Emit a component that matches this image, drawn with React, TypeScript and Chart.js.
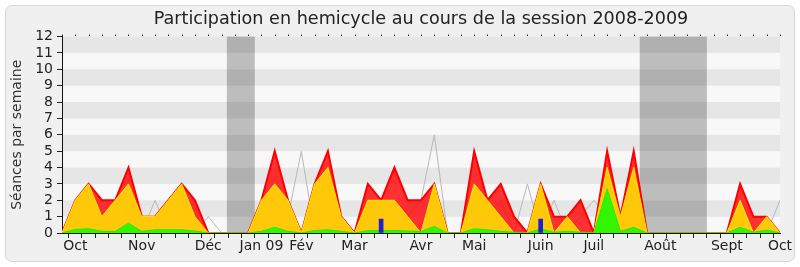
import React, { useEffect, useRef } from 'react';
import { Chart, registerables } from 'chart.js';

Chart.register(...registerables);

// Weekly values, week 0 = end of September 2008 ... week 54 = start of October 2009
const seances = [0, 2, 3, 2, 2, 4, 1, 1, 2, 3, 2, 0, 0, 0, 0, 2, 5, 2, 0, 3, 5, 1, 0, 3, 2, 4, 2, 2, 3, 0, 0, 5, 2, 3, 1, 0, 3, 1, 1, 2, 0, 5, 1, 5, 0, 0, 0, 0, 0, 0, 0, 3, 1, 1, 0];
const presences = [0, 2, 3, 1, 2, 3, 1, 1, 2, 3, 1, 0, 0, 0, 0, 2, 3, 2, 0, 3, 4, 1, 0, 2, 2, 2, 1, 0, 3, 0, 0, 3, 2, 1, 0, 0, 3, 0, 1, 0, 0, 4, 1, 4, 0, 0, 0, 0, 0, 0, 0, 2, 0, 1, 0];
const interventions = [0, 0.22, 0.26, 0.1, 0.1, 0.6, 0.1, 0.2, 0.2, 0.2, 0.12, 0, 0, 0, 0, 0.1, 0.35, 0.1, 0, 0.15, 0.2, 0.1, 0, 0.15, 0.15, 0.15, 0.12, 0.1, 0.4, 0, 0, 0.26, 0.2, 0.1, 0.05, 0, 0.25, 0.05, 0.1, 0.05, 0, 2.7, 0.1, 0.35, 0, 0, 0, 0, 0, 0, 0, 0.35, 0.05, 0.18, 0];
const mediane = [0, 0, 0, 1, 1, 2, 0, 2, 0, 1, 0, 1, 0, 0, 0, 1, 0, 1, 5, 0, 1, 0, 0, 1, 0, 1, 1, 2, 6, 0, 0, 1, 1, 2, 0, 3, 0, 2, 0, 1, 2, 1, 0, 1, 0, 0, 0, 0, 0, 0, 0, 0, 0, 0, 2];
const questionWeeks = [24, 36];
const questionValues = [0.85, 0.85];

const monthWeeks = [1, 6, 11, 15, 18, 22, 27, 31, 36, 40, 45, 50, 54];
const monthLabels = ['Oct', 'Nov', 'Déc', 'Jan 09', 'Fév', 'Mar', 'Avr', 'Mai', 'Juin', 'Juil', 'Août', 'Sept', 'Oct'];
const vacationStarts = [12.4, 43.45];
const vacationEnds = [14.5, 48.5];
const yMax = 12;

const FONT = "'DejaVu Sans', 'Verdana', sans-serif";

const backgroundPlugin = {
  id: 'bgStripes',
  beforeDraw(chart: any) {
    const { ctx, chartArea: a, scales } = chart;
    const x = scales.x;
    const y = scales.y;
    ctx.save();
    for (let v = 0; v < yMax; v++) {
      const y1 = y.getPixelForValue(v + 1);
      const y0 = y.getPixelForValue(v);
      ctx.fillStyle = v % 2 === 1 ? '#e6e6e6' : '#f8f8f8';
      ctx.fillRect(a.left, y1, a.right - a.left, y0 - y1);
    }
    ctx.globalCompositeOperation = 'multiply';
    ctx.fillStyle = 'rgb(195,195,195)';
    vacationStarts.forEach((s, k) => {
      const x0 = x.getPixelForValue(s);
      const x1 = x.getPixelForValue(vacationEnds[k]);
      ctx.fillRect(x0, a.top, x1 - x0, a.bottom - a.top);
    });
    ctx.restore();
  },
  afterDraw(chart: any) {
    const { ctx, chartArea: a, scales } = chart;
    const x = scales.x;
    ctx.save();
    ctx.fillStyle = '#333';
    seances.forEach((_, i) => {
      const px = Math.round(x.getPixelForValue(i));
      ctx.fillRect(px, a.top - 2, 1, 1.5);
    });
    ctx.restore();
  },
};

export default function App() {
  const ref = useRef<HTMLCanvasElement | null>(null);

  useEffect(() => {
    if (!ref.current) return;
    const pts = (arr: number[]) => arr.map((v, i) => ({ x: i, y: v }));
    const chart = new Chart(ref.current, {
      type: 'line',
      data: {
        datasets: [
          {
            label: 'Médiane',
            data: pts(mediane),
            borderColor: '#b8b8b8',
            borderWidth: 1,
            pointRadius: 0,
            fill: false,
            tension: 0,
            order: 5,
          },
          {
            label: 'Séances',
            data: pts(seances),
            borderColor: '#ff0000',
            backgroundColor: 'rgba(255,0,0,0.8)',
            borderWidth: 2,
            pointRadius: 0,
            fill: 'origin',
            tension: 0,
            order: 4,
          },
          {
            label: 'Présences',
            data: pts(presences),
            borderColor: '#ffee00',
            backgroundColor: 'rgba(255,212,5,0.93)',
            borderWidth: 1,
            pointRadius: 0,
            fill: 'origin',
            tension: 0,
            order: 3,
          },
          {
            label: 'Interventions',
            data: pts(interventions),
            borderColor: '#22ee00',
            backgroundColor: '#33f500',
            borderWidth: 1,
            pointRadius: 0,
            fill: 'origin',
            tension: 0,
            order: 2,
          },
          {
            type: 'bar',
            label: 'Questions',
            data: questionWeeks.map((w, k) => ({ x: w, y: questionValues[k] })),
            backgroundColor: '#1f1fd6',
            barThickness: 4,
            order: 1,
          } as any,
        ],
      },
      options: {
        animation: false,
        responsive: false,
        maintainAspectRatio: false,
        layout: { padding: { left: 0, right: 20, top: 0, bottom: 0 } },
        plugins: {
          legend: { display: false },
          tooltip: { enabled: false },
          title: {
            display: true,
            text: 'Participation en hemicycle au cours de la session 2008-2009',
            fullSize: false,
            color: '#222',
            font: { family: FONT, size: 17.6, weight: 'normal' },
            padding: { top: 8.5, bottom: 6.9 },
          },
        },
        scales: {
          x: {
            type: 'linear',
            min: 0,
            max: seances.length - 1,
            offset: false,
            afterBuildTicks: (s: any) => {
              s.ticks = seances.map((_, i) => ({ value: i }));
            },
            afterFit: (s: any) => {
              s.height = 34;
            },
            ticks: {
              autoSkip: false,
              maxRotation: 0,
              minRotation: 0,
              padding: 0,
              color: '#222',
              font: { family: FONT, size: 14 },
              callback: (v: any) => {
                const k = monthWeeks.indexOf(Number(v));
                return k >= 0 ? monthLabels[k] : '';
              },
            },
            grid: { drawOnChartArea: false, tickLength: 5, tickColor: '#222' },
            border: { color: '#111', width: 1 },
          },
          y: {
            min: 0,
            max: yMax,
            afterFit: (s: any) => {
              s.width = 62;
            },
            ticks: { stepSize: 1, autoSkip: false, color: '#222', padding: 4, font: { family: FONT, size: 14 } },
            grid: { drawOnChartArea: false, tickLength: 5, tickColor: '#222' },
            border: { color: '#111', width: 1 },
            title: {
              display: true,
              text: 'Séances par semaine',
              color: '#333',
              font: { family: FONT, size: 14 },
              padding: { top: 9, bottom: 0 },
            },
          },
        },
      },
      plugins: [backgroundPlugin],
    } as any);
    return () => chart.destroy();
  }, []);

  return (
    <div style={{ position: 'absolute', left: 0, top: 0, width: 800, height: 267, background: '#ffffff' }}>
      <div
        style={{
          position: 'absolute',
          left: 5,
          top: 5,
          width: 788,
          height: 255,
          background: '#f0f0f0',
          border: '1px solid #d6d6d6',
          borderRadius: 7,
        }}
      />
      <canvas ref={ref} width={800} height={267} style={{ position: 'absolute', left: 0, top: 0, width: 800, height: 267 }} />
    </div>
  );
}
